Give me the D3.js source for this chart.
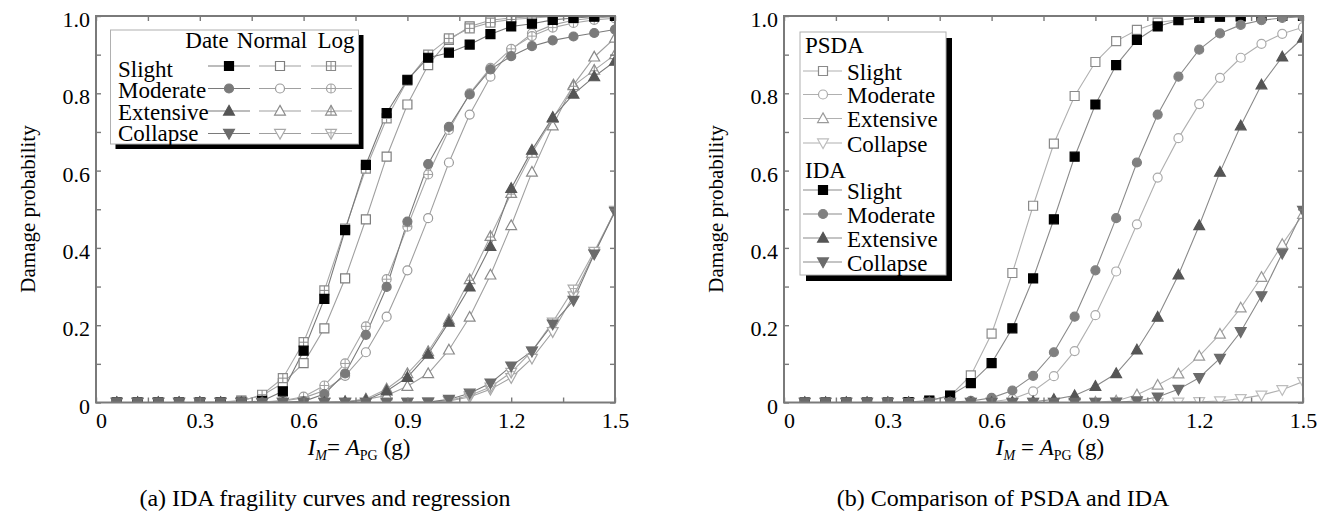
<!DOCTYPE html>
<html><head><meta charset="utf-8">
<script src="https://cdn.jsdelivr.net/npm/d3@7"></script>
<style>
body{margin:0;background:#fff}
svg{display:block;background:#fff}
svg text{font-family:'Liberation Serif',Tinos,'Times New Roman',Times,'DejaVu Serif',serif;fill:#000}
</style>
</head><body>
<svg id="chart" width="1329" height="514"></svg>
<script>
// ---------------- data ----------------
const intensity = [0.06,0.12,0.18,0.24,0.30,0.36,0.42,0.48,0.54,0.60,0.66,0.72,0.78,0.84,0.90,0.96,1.02,1.08,1.14,1.20,1.26,1.32,1.38,1.44,1.50];
const damageStates = ["Slight","Moderate","Extensive","Collapse"];
const xTickLabels = ["0","0.3","0.6","0.9","1.2","1.5"];
const yTickLabels = ["0","0.2","0.4","0.6","0.8","1.0"];

// (a) IDA data points ("Date") and regressions (Normal, Log)
const dateSlight    = [0,0,0,0,0,0,0,0.004,0.029,0.134,0.268,0.446,0.615,0.749,0.835,0.892,0.905,0.926,0.953,0.973,0.980,0.990,0.995,0.998,1.0];
const dateModerate  = [0,0,0,0,0,0,0,0,0.001,0.003,0.022,0.075,0.175,0.299,0.468,0.617,0.713,0.797,0.862,0.896,0.922,0.937,0.947,0.956,0.965];
const dateExtensive = [0,0,0,0,0,0,0,0,0,0,0,0.001,0.006,0.030,0.065,0.125,0.208,0.299,0.404,0.554,0.653,0.738,0.798,0.843,0.883];
const dateCollapse  = [0,0,0,0,0,0,0,0,0,0,0,0,0,0,0,0.001,0.008,0.024,0.050,0.094,0.133,0.203,0.264,0.384,0.494];

const normalSlight    = [0,0,0,0,0,0.001,0.005,0.018,0.050,0.102,0.192,0.321,0.474,0.636,0.771,0.873,0.938,0.973,0.989,0.995,0.998,0.999,1,1,1];
const normalModerate  = [0,0,0,0,0,0,0,0.001,0.004,0.012,0.031,0.069,0.130,0.222,0.342,0.477,0.621,0.745,0.843,0.913,0.955,0.977,0.989,0.995,0.998];
const normalExtensive = [0,0,0,0,0,0,0,0,0,0,0.001,0.002,0.008,0.018,0.042,0.075,0.136,0.221,0.330,0.458,0.596,0.716,0.822,0.894,0.943];
const normalCollapse  = [0,0,0,0,0,0,0,0,0,0,0,0,0,0,0,0.001,0.004,0.014,0.034,0.064,0.114,0.183,0.276,0.386,0.497];

const logSlight    = [0,0,0,0,0,0.001,0.004,0.020,0.063,0.156,0.290,0.450,0.605,0.735,0.833,0.900,0.942,0.968,0.983,0.991,0.995,0.998,0.999,1,1];
const logModerate  = [0,0,0,0,0,0,0,0.001,0.005,0.015,0.044,0.101,0.197,0.319,0.455,0.590,0.705,0.800,0.866,0.915,0.948,0.970,0.982,0.990,0.994];
const logExtensive = [0,0,0,0,0,0,0,0,0,0,0,0.002,0.009,0.035,0.075,0.132,0.214,0.318,0.430,0.541,0.645,0.735,0.820,0.860,0.900];
const logCollapse  = [0,0,0,0,0,0,0,0,0,0,0,0,0,0,0,0,0.005,0.018,0.040,0.078,0.133,0.208,0.293,0.391,0.495];

// (b) PSDA vs IDA
const psdaSlight    = [0,0,0,0,0,0.001,0.004,0.017,0.070,0.178,0.335,0.509,0.670,0.793,0.881,0.935,0.964,0.983,0.990,0.995,0.998,0.999,1,1,1];
const psdaModerate  = [0,0,0,0,0,0,0,0,0.001,0.002,0.009,0.029,0.068,0.133,0.226,0.339,0.461,0.582,0.684,0.772,0.840,0.892,0.928,0.954,0.971];
const psdaExtensive = [0,0,0,0,0,0,0,0,0,0,0,0,0,0,0.001,0.004,0.020,0.045,0.074,0.120,0.177,0.245,0.324,0.409,0.487];
const psdaCollapse  = [0,0,0,0,0,0,0,0,0,0,0,0,0,0,0,0,0,0,0.001,0.002,0.004,0.010,0.019,0.033,0.054];

const idaSlight    = [0,0,0,0,0,0.001,0.005,0.018,0.050,0.102,0.192,0.321,0.474,0.636,0.771,0.873,0.938,0.973,0.989,0.995,0.998,0.999,1,1,1];
const idaModerate  = [0,0,0,0,0,0,0,0.001,0.004,0.012,0.031,0.069,0.130,0.222,0.342,0.477,0.621,0.745,0.843,0.913,0.955,0.977,0.989,0.995,0.998];
const idaExtensive = [0,0,0,0,0,0,0,0,0,0,0.001,0.002,0.008,0.018,0.042,0.075,0.136,0.221,0.330,0.458,0.596,0.716,0.822,0.894,0.943];
const idaCollapse  = [0,0,0,0,0,0,0,0,0,0,0,0,0,0,0,0.001,0.004,0.014,0.034,0.064,0.114,0.183,0.276,0.386,0.497];

// ---------------- styling ----------------
const shapes = ["square","circle","tri","dtri"];
const FONT = "'Liberation Serif',Tinos,'Times New Roman',Times,'DejaVu Serif',serif";
const svg = d3.select("#chart");

function markerPath(shape, s){
  switch(shape){
    case "square": return `M${-s},${-s}h${2*s}v${2*s}h${-2*s}Z`;
    case "circle": return `M${s},0A${s},${s} 0 1,1 ${-s},0A${s},${s} 0 1,1 ${s},0Z`;
    case "tri":  return `M0,${-s*1.25}L${s*1.2},${s*0.9}L${-s*1.2},${s*0.9}Z`;
    case "dtri": return `M0,${s*1.25}L${s*1.2},${-s*0.9}L${-s*1.2},${-s*0.9}Z`;
  }
}
function crossPath(shape, s){
  if(shape==="tri")  return `M0,${-s*1.25}V${s*0.9}M${-s*0.75},${s*0.15}H${s*0.75}`;
  if(shape==="dtri") return `M0,${s*1.25}V${-s*0.9}M${-s*0.75},${-s*0.15}H${s*0.75}`;
  return `M${-s},0H${s}M0,${-s}V${s}`;
}
function drawMarker(sel, shape, st){
  const s = 4.5;
  sel.append("path").attr("d", markerPath(shape, s))
    .attr("fill", st.fill).attr("stroke", st.stroke).attr("stroke-width", st.sw || 1.2);
  if(st.cross){
    sel.append("path").attr("d", crossPath(shape, s))
      .attr("fill","none").attr("stroke", st.stroke).attr("stroke-width", 1);
  }
}

function panel(cfg){
  const {left,right,top,bottom,id} = cfg;
  const x = d3.scaleLinear().domain([0,1.5]).range([left,right]);
  const y = d3.scaleLinear().domain([0,1]).range([bottom,top]);
  const g = svg.append("g").attr("font-family",FONT);

  svg.append("defs").append("clipPath").attr("id","clip"+id)
    .append("rect").attr("x",left).attr("y",top).attr("width",right-left).attr("height",bottom-top);
  const plot = g.append("g").attr("clip-path",`url(#clip${id})`);

  const line = d3.line().x((d,i)=>x(intensity[i])).y(d=>y(d));
  cfg.series.forEach(s=>{
    plot.append("path").datum(s.values).attr("d",line)
      .attr("fill","none").attr("stroke",s.line).attr("stroke-width",1.1);
  });
  cfg.series.forEach(s=>{
    const pts = plot.append("g").selectAll("g").data(s.values).join("g")
      .attr("transform",(d,i)=>`translate(${x(intensity[i])},${y(d)})`);
    pts.each(function(){ drawMarker(d3.select(this), s.shape, s); });
  });

  const xMajor = xTickLabels.map(Number);
  const xAll = [];
  xMajor.forEach((v,i)=>{ xAll.push(v); if(i<xMajor.length-1) xAll.push((v+xMajor[i+1])/2); });
  const yMajor = yTickLabels.map(Number);
  const yAll = [];
  yMajor.forEach((v,i)=>{ yAll.push(v); if(i<yMajor.length-1) yAll.push((v+yMajor[i+1])/2); });
  const xFmt = d=>{const k=xMajor.findIndex(m=>Math.abs(m-d)<1e-9); return k>=0?xTickLabels[k]:"";};
  const yFmt = d=>{const k=yMajor.findIndex(m=>Math.abs(m-d)<1e-9); return k>=0?yTickLabels[k]:"";};

  const axB = g.append("g").attr("transform",`translate(0,${bottom})`)
    .call(d3.axisBottom(x).tickValues(xAll).tickSizeInner(-5).tickSizeOuter(0).tickFormat(xFmt));
  axB.selectAll("text").attr("y",25.5).attr("dy",0).attr("dx",(d)=>d===0?5:0);
  const axT = g.append("g").attr("transform",`translate(0,${top})`)
    .call(d3.axisTop(x).tickValues(xAll).tickSizeInner(-5).tickSizeOuter(0).tickFormat(""));
  const axL = g.append("g").attr("transform",`translate(${left},0)`)
    .call(d3.axisLeft(y).tickValues(yAll).tickSizeInner(-5).tickSizeOuter(0).tickFormat(yFmt));
  axL.selectAll("text").attr("x",-6).attr("dy",10.5);
  const axR = g.append("g").attr("transform",`translate(${right},0)`)
    .call(d3.axisRight(y).tickValues(yAll).tickSizeInner(-5).tickSizeOuter(0).tickFormat(""));
  [axB,axT,axL,axR].forEach(a=>{
    a.attr("font-family",FONT).attr("font-size",22);
    a.select(".domain").remove();
    a.selectAll("line").attr("stroke","#7a7a7a").attr("stroke-width",1.4);
    a.selectAll("text").attr("font-family",FONT).attr("font-size",22).attr("fill","#000");
  });
  g.append("rect").attr("x",left).attr("y",top).attr("width",right-left).attr("height",bottom-top)
    .attr("fill","none").attr("stroke","#7a7a7a").attr("stroke-width",2);

  g.append("text").attr("transform",`translate(${cfg.yTitleX},209) rotate(-90)`)
    .attr("text-anchor","middle").attr("font-size",21).text("Damage probability");

  const xt = g.append("text").attr("x",cfg.xTitleX).attr("y",455).attr("text-anchor","middle").attr("font-size",23);
  xt.append("tspan").attr("font-style","italic").text("I");
  xt.append("tspan").attr("font-style","italic").attr("font-size",14).attr("dy",5).text("M");
  xt.append("tspan").attr("dy",-5).text(cfg.eq);
  xt.append("tspan").attr("font-style","italic").text("A");
  xt.append("tspan").attr("font-size",14).attr("dy",5).text("PG");
  xt.append("tspan").attr("dy",-5).text(" (g)");

  g.append("text").attr("x",cfg.capX).attr("y",506).attr("text-anchor","middle").attr("font-size",24).text(cfg.caption);
  return g;
}

// ---------- panel (a) ----------
const dateFill   = ["#000000","#7a7a7a","#555555","#6b6b6b"];
const openStroke = ["#7e7e7e","#9a9a9a","#8a8a8a","#a8a8a8"];
const logStroke  = ["#8a8a8a","#a0a0a0","#8e8e8e","#ababab"];
const dateVals   = [dateSlight,dateModerate,dateExtensive,dateCollapse];
const normalVals = [normalSlight,normalModerate,normalExtensive,normalCollapse];
const logVals    = [logSlight,logModerate,logExtensive,logCollapse];

const seriesA = [];
normalVals.forEach((v,i)=>seriesA.push({values:v,shape:shapes[i],fill:"#fff",stroke:openStroke[i],line:"#a0a0a0"}));
logVals.forEach((v,i)=>seriesA.push({values:v,shape:shapes[i],fill:"#fff",stroke:logStroke[i],cross:true,line:"#a8a8a8"}));
dateVals.forEach((v,i)=>seriesA.push({values:v,shape:shapes[i],fill:dateFill[i],stroke:dateFill[i],line:"#7a7a7a"}));

const gA = panel({id:"a",left:96,right:615,top:16,bottom:402.5,series:seriesA,
  yTitleX:35,xTitleX:359,eq:"= ",capX:325,caption:"(a) IDA fragility curves and regression"});

(function(){
  const L = gA.append("g");
  L.append("rect").attr("x",115.5).attr("y",35).attr("width",248).attr("height",114).attr("fill","#000");
  L.append("rect").attr("x",110.5).attr("y",30).attr("width",248).attr("height",114).attr("fill","#fff").attr("stroke","#b0b0b0").attr("stroke-width",1);
  const heads = ["Date","Normal","Log"], headX=[207,272,336];
  heads.forEach((h,i)=>L.append("text").attr("x",headX[i]).attr("y",48).attr("text-anchor","middle").attr("font-size",23).text(h));
  const rowY=[66,88.5,111,133.5], baseY=[77,98,120,141];
  const cols=[{x0:208,x1:250,m:229},{x0:259,x1:301,m:280},{x0:311,x1:352,m:331}];
  damageStates.forEach((s,i)=>{
    L.append("text").attr("x",118).attr("y",baseY[i]).attr("font-size",23).text(s);
    const styles=[{fill:dateFill[i],stroke:dateFill[i]},{fill:"#fff",stroke:openStroke[i]},{fill:"#fff",stroke:logStroke[i],cross:true}];
    const lineCols=["#7a7a7a","#a0a0a0","#a8a8a8"];
    cols.forEach((c,j)=>{
      L.append("line").attr("x1",c.x0).attr("x2",c.x1).attr("y1",rowY[i]).attr("y2",rowY[i]).attr("stroke",lineCols[j]).attr("stroke-width",1.1);
      drawMarker(L.append("g").attr("transform",`translate(${c.m},${rowY[i]})`), shapes[i], styles[j]);
    });
  });
})();

// ---------- panel (b) ----------
const psdaStroke = ["#8a8a8a","#aaaaaa","#9a9a9a","#bdbdbd"];
const idaFill    = ["#000000","#808080","#555555","#6b6b6b"];
const psdaVals = [psdaSlight,psdaModerate,psdaExtensive,psdaCollapse];
const idaVals  = [idaSlight,idaModerate,idaExtensive,idaCollapse];
const seriesB = [];
psdaVals.forEach((v,i)=>seriesB.push({values:v,shape:shapes[i],fill:"#fff",stroke:psdaStroke[i],line:"#b0b0b0"}));
idaVals.forEach((v,i)=>seriesB.push({values:v,shape:shapes[i],fill:idaFill[i],stroke:idaFill[i],line:"#8a8a8a"}));

const gB = panel({id:"b",left:784,right:1303,top:16,bottom:402.5,series:seriesB,
  yTitleX:723,xTitleX:1050,eq:" = ",capX:1003,caption:"(b) Comparison of PSDA and IDA"});

(function(){
  const L = gB.append("g");
  L.append("rect").attr("x",806).attr("y",38).attr("width",146).attr("height",243).attr("fill","#000");
  L.append("rect").attr("x",800).attr("y",32).attr("width",146).attr("height",243).attr("fill","#fff").attr("stroke","#b0b0b0").attr("stroke-width",1);
  const groups=[
    {title:"PSDA",ty:53,rows:[71,94.5,118.5,143],base:[80,103,127,152],st:i=>({fill:"#fff",stroke:psdaStroke[i]}),line:"#b0b0b0"},
    {title:"IDA",ty:178,rows:[190,214,238,262],base:[199,223,247,271],st:i=>({fill:idaFill[i],stroke:idaFill[i]}),line:"#8a8a8a"}
  ];
  groups.forEach(gr=>{
    L.append("text").attr("x",805).attr("y",gr.ty).attr("font-size",23).text(gr.title);
    damageStates.forEach((s,i)=>{
      L.append("line").attr("x1",803).attr("x2",842).attr("y1",gr.rows[i]).attr("y2",gr.rows[i]).attr("stroke",gr.line).attr("stroke-width",1.1);
      drawMarker(L.append("g").attr("transform",`translate(823,${gr.rows[i]})`), shapes[i], gr.st(i));
      L.append("text").attr("x",847).attr("y",gr.base[i]).attr("font-size",23).text(s);
    });
  });
})();
</script>
</body></html>
